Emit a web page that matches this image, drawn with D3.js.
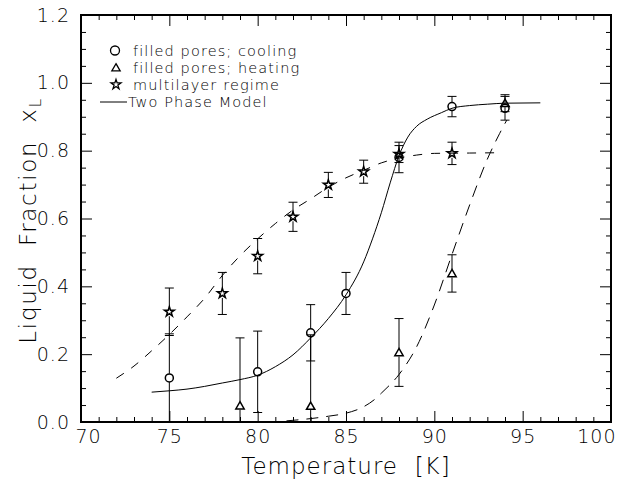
<!DOCTYPE html>
<html>
<head>
<meta charset="utf-8">
<script src="https://cdn.jsdelivr.net/npm/d3@7"></script>
<style>
  html, body { margin: 0; padding: 0; background: #fff; }
  svg text { font-family: "DejaVu Sans", sans-serif; font-weight: 200; fill: #000; }
</style>
</head>
<body>
<svg id="chart" width="617" height="481"></svg>
<script>
// Axis tick values and labels
const xMajorTicks = [70, 75, 80, 85, 90, 95, 100];
const yMajorTicks = [0, 0.2, 0.4, 0.6, 0.8, 1.0, 1.2];
const yTickLabels = ["0.0", "0.2", "0.4", "0.6", "0.8", "1.0", "1.2"];

// Filled pores, cooling (circles)
const coolT   = [75, 80, 83, 85, 88, 91, 94];
const coolX   = [0.13, 0.148, 0.263, 0.379, 0.78, 0.93, 0.925];
const coolErr = [0.13, 0.12, 0.083, 0.062, 0.045, 0.03, 0.035];

// Filled pores, heating (triangles)
const heatT   = [79, 83, 88, 91, 94];
const heatX   = [0.048, 0.047, 0.205, 0.438, 0.94];
const heatErr = [0.2, 0.21, 0.1, 0.055, 0.025];

// Multilayer regime (stars)
const multiT   = [75, 78, 80, 82, 84, 86, 88, 91];
const multiX   = [0.325, 0.379, 0.489, 0.605, 0.699, 0.738, 0.79, 0.792];
const multiErr = [0.07, 0.062, 0.052, 0.043, 0.037, 0.034, 0.025, 0.033];

// Two phase model (solid curve)
const modelT = [74, 75, 76, 77, 78, 79, 80, 81, 82, 83, 84, 85, 86, 86.5, 87, 87.5, 88, 88.5, 89, 89.6, 90.4, 91, 92, 93, 94, 96];
const modelX = [0.088, 0.092, 0.097, 0.105, 0.115, 0.125, 0.138, 0.163, 0.198, 0.248, 0.305, 0.375, 0.472, 0.54, 0.617, 0.705, 0.785, 0.84, 0.872, 0.893, 0.912, 0.925, 0.933, 0.937, 0.94, 0.941];

// Guide curve through the multilayer data (dashed)
const multiCurveT = [72, 73, 74, 75, 76, 77, 78, 79, 80, 81, 82, 83, 84, 85, 86, 87, 88, 89, 90, 92, 93.8];
const multiCurveX = [0.129, 0.165, 0.21, 0.258, 0.31, 0.365, 0.432, 0.49, 0.54, 0.585, 0.625, 0.658, 0.692, 0.72, 0.742, 0.764, 0.778, 0.787, 0.792, 0.793, 0.794];

// Guide curve through the heating data (dashed)
const heatCurveT = [80.5, 81, 82, 83, 84, 85, 86, 86.7, 87, 88, 89, 90, 91, 92, 93, 93.7, 94.1];
const heatCurveX = [0, 0.001, 0.005, 0.01, 0.017, 0.026, 0.045, 0.07, 0.085, 0.14, 0.222, 0.345, 0.494, 0.64, 0.775, 0.851, 0.89];

const svg = d3.select("#chart");
svg.append("rect").attr("width", 617).attr("height", 481).attr("fill", "#fff");

const x = d3.scaleLinear().domain([70, 100]).range([81, 611]);
const y = d3.scaleLinear().domain([0, 1.2]).range([422, 15]);

svg.append("clipPath").attr("id", "plotClip")
  .append("rect")
  .attr("x", x(70)).attr("y", y(1.2))
  .attr("width", x(100) - x(70)).attr("height", y(0) - y(1.2));

const plot = svg.append("g").attr("clip-path", "url(#plotClip)");

const line = d3.line().x(d => x(d[0])).y(d => y(d[1])).curve(d3.curveMonotoneX);

plot.append("path")
  .datum(modelT.map((t, i) => [t, modelX[i]]))
  .attr("d", line).attr("fill", "none").attr("stroke", "#000").attr("stroke-width", 1);

plot.append("path")
  .datum(multiCurveT.map((t, i) => [t, multiCurveX[i]]))
  .attr("d", line).attr("fill", "none").attr("stroke", "#000").attr("stroke-width", 1)
  .attr("stroke-dasharray", "9,9");

plot.append("path")
  .datum(heatCurveT.map((t, i) => [t, heatCurveX[i]]))
  .attr("d", line).attr("fill", "none").attr("stroke", "#000").attr("stroke-width", 1)
  .attr("stroke-dasharray", "12,8");

// Error bars: vertical bar split around the marker, with caps
function errorBars(T, X, E, gap) {
  const g = plot.append("g").attr("stroke", "#000").attr("stroke-width", 1);
  T.forEach((t, i) => {
    const cx = x(t), cy = y(X[i]);
    const yTop = y(X[i] + E[i]), yBot = y(X[i] - E[i]);
    if (cy - gap > yTop) g.append("line").attr("x1", cx).attr("x2", cx).attr("y1", yTop).attr("y2", cy - gap);
    if (cy + gap < yBot) g.append("line").attr("x1", cx).attr("x2", cx).attr("y1", cy + gap).attr("y2", yBot);
    g.append("line").attr("x1", cx - 4.5).attr("x2", cx + 4.5).attr("y1", yTop).attr("y2", yTop);
    g.append("line").attr("x1", cx - 4.5).attr("x2", cx + 4.5).attr("y1", yBot).attr("y2", yBot);
  });
}
errorBars(coolT, coolX, coolErr, 4.2);
errorBars(heatT, heatX, heatErr, 4);
errorBars(multiT, multiX, multiErr, 4.5);

const triPath = d3.symbol().type(d3.symbolTriangle).size(30)();
const starPath = d3.symbol().type(d3.symbolStar).size(30)();

function markers(T, X, kind) {
  const g = plot.append("g");
  T.forEach((t, i) => {
    const cx = x(t), cy = y(X[i]);
    if (kind === "circle") {
      g.append("circle").attr("cx", cx).attr("cy", cy).attr("r", 4)
        .attr("fill", "none").attr("stroke", "#000").attr("stroke-width", 1.5);
    } else {
      g.append("path").attr("d", kind === "tri" ? triPath : starPath)
        .attr("transform", `translate(${cx},${cy + (kind === "tri" ? 0.8 : 0)})`)
        .attr("fill", "none").attr("stroke", "#000").attr("stroke-width", 1.5);
    }
  });
}
markers(coolT, coolX, "circle");
markers(heatT, heatX, "tri");
markers(multiT, multiX, "star");

// Axes with inward ticks on all four sides
const xMinor = d3.range(70, 101).filter(v => v % 5 !== 0);
const yMinor = d3.range(0, 25).map(k => k * 0.05).filter((v, k) => k % 4 !== 0);

function styleAxis(g) {
  g.select(".domain").remove();
  g.selectAll(".tick line").attr("stroke", "#000").attr("stroke-width", 1);
}

svg.append("g").attr("transform", `translate(0,${y(0)})`)
  .call(d3.axisBottom(x).tickValues(xMinor).tickSize(-5).tickFormat(""))
  .call(styleAxis);
const xAxisG = svg.append("g").attr("transform", `translate(0,${y(0)})`)
  .call(d3.axisBottom(x).tickValues(xMajorTicks).tickSize(-11).tickPadding(8).tickFormat(d3.format("d")))
  .call(styleAxis);
xAxisG.selectAll(".tick text")
  .attr("font-size", 19).attr("letter-spacing", 1)
  .attr("font-family", "DejaVu Sans")
  .each(function (d) {
    if (d === 70) d3.select(this).attr("x", 7);
    if (d === 100) d3.select(this).attr("text-anchor", "end").attr("x", 5);
  });

svg.append("g").attr("transform", `translate(0,${y(1.2)})`)
  .call(d3.axisTop(x).tickValues(xMinor).tickSize(-5).tickFormat(""))
  .call(styleAxis);
svg.append("g").attr("transform", `translate(0,${y(1.2)})`)
  .call(d3.axisTop(x).tickValues(xMajorTicks).tickSize(-11).tickFormat(""))
  .call(styleAxis);

svg.append("g").attr("transform", `translate(${x(70)},0)`)
  .call(d3.axisLeft(y).tickValues(yMinor).tickSize(-5).tickFormat(""))
  .call(styleAxis);
const yAxisG = svg.append("g").attr("transform", `translate(${x(70)},0)`)
  .call(d3.axisLeft(y).tickValues(yMajorTicks).tickSize(-11).tickPadding(11)
    .tickFormat((d, i) => yTickLabels[i]))
  .call(styleAxis);
yAxisG.selectAll(".tick text").attr("font-size", 19).attr("letter-spacing", 1)
  .attr("font-family", "DejaVu Sans");

svg.append("g").attr("transform", `translate(${x(100)},0)`)
  .call(d3.axisRight(y).tickValues(yMinor).tickSize(-5).tickFormat(""))
  .call(styleAxis);
svg.append("g").attr("transform", `translate(${x(100)},0)`)
  .call(d3.axisRight(y).tickValues(yMajorTicks).tickSize(-11).tickFormat(""))
  .call(styleAxis);

// Frame
svg.append("rect")
  .attr("x", x(70)).attr("y", y(1.2))
  .attr("width", x(100) - x(70)).attr("height", y(0) - y(1.2))
  .attr("fill", "none").attr("stroke", "#000").attr("stroke-width", 2);

// Axis titles
svg.append("text")
  .attr("x", (x(70) + x(100)) / 2).attr("y", 474)
  .attr("text-anchor", "middle").attr("font-size", 23).attr("letter-spacing", 1)
  .attr("xml:space", "preserve")
  .text("Temperature  [K]");

const yTitle = svg.append("text")
  .attr("transform", `translate(36,${(y(0) + y(1.2)) / 2 + 2}) rotate(-90)`)
  .attr("text-anchor", "middle").attr("font-size", 23).attr("letter-spacing", 1.7)
  .attr("xml:space", "preserve");
yTitle.append("tspan").text("Liquid  Fraction  x");
yTitle.append("tspan").attr("font-size", 15).attr("dy", 5).text("L");

// Legend (baselines)
const legend = svg.append("g");
const legendRows = [
  { kind: "circle", label: "filled pores; cooling", by: 55.5 },
  { kind: "tri", label: "filled pores; heating", by: 72.5 },
  { kind: "star", label: "multilayer regime", by: 89.5 },
  { kind: "line", label: "Two Phase Model", by: 107 }
];
legendRows.forEach(r => {
  const cy = r.by - 5;
  if (r.kind === "circle") {
    legend.append("circle").attr("cx", 115).attr("cy", cy).attr("r", 4.5)
      .attr("fill", "none").attr("stroke", "#000").attr("stroke-width", 1.3);
  } else if (r.kind === "tri") {
    legend.append("path").attr("d", triPath).attr("transform", `translate(116,${cy + 1})`)
      .attr("fill", "none").attr("stroke", "#000").attr("stroke-width", 1.3);
  } else if (r.kind === "star") {
    legend.append("path").attr("d", starPath).attr("transform", `translate(116,${cy})`)
      .attr("fill", "none").attr("stroke", "#000").attr("stroke-width", 1.3);
  } else {
    legend.append("line").attr("x1", 100).attr("x2", 127).attr("y1", cy).attr("y2", cy)
      .attr("stroke", "#000").attr("stroke-width", 1);
  }
  legend.append("text").attr("x", r.kind === "line" ? 128 : 133).attr("y", r.by)
    .attr("font-size", 14.5).attr("letter-spacing", 1.1)
    .text(r.label);
});
</script>
</body>
</html>
